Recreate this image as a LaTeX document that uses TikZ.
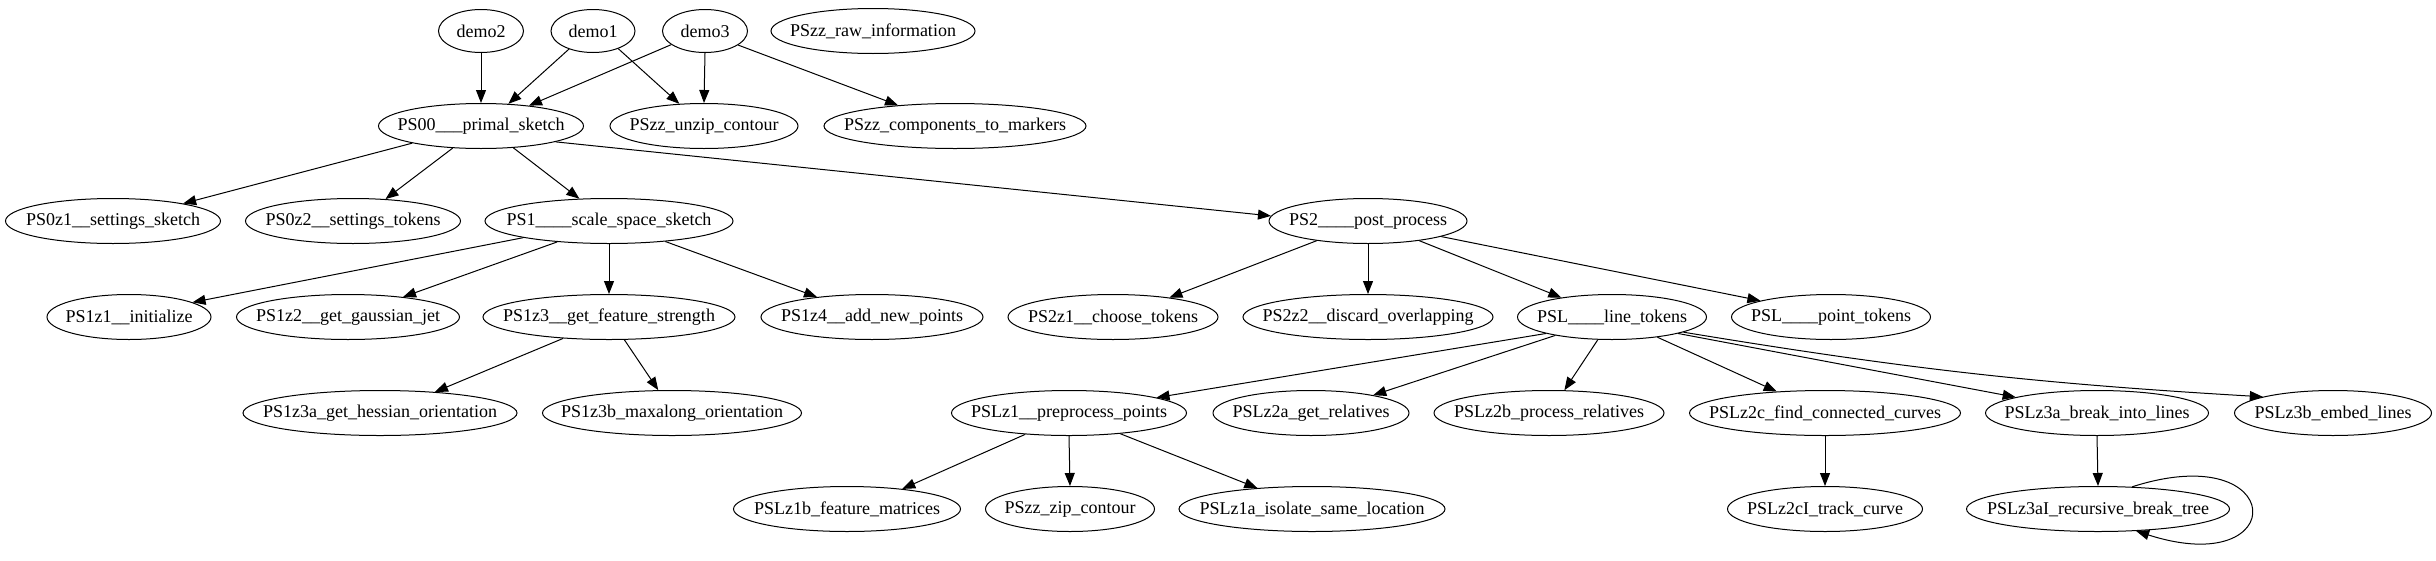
\documentclass[tikz,border=0pt]{standalone}
\usepackage{fontspec}
\setmainfont{Liberation Serif}
\usetikzlibrary{arrows.meta,shapes.geometric}
\newcommand\lbl[1]{\makebox[0pt]{#1}}
\tikzset{
  gn/.style={draw, ellipse, line width=1pt, inner sep=0pt, minimum height=45pt,
    font=\fontsize{18}{20}\selectfont},
  ge/.style={-{Triangle[length=13pt,width=10pt]}, line width=1pt},
}
\begin{document}
\begin{tikzpicture}[x=1pt,y=-1pt]
\useasboundingbox (0,0) rectangle (2436,560);
% row 0
\node[gn, minimum width=85pt, minimum height=43pt] (demo2) at (481,31) {\lbl{demo2}};
\node[gn, minimum width=84pt, minimum height=43pt] (demo1) at (593,31) {\lbl{demo1}};
\node[gn, minimum width=85pt, minimum height=43pt] (demo3) at (705,31) {\lbl{demo3}};
\node[gn, minimum width=204pt] (raw) at (873,31) {\lbl{PSzz\_raw\_information}};
% row 1
\node[gn, minimum width=205pt] (ps00) at (481,126) {\lbl{PS00\_\_\_primal\_sketch}};
\node[gn, minimum width=188pt] (unzip) at (704,126) {\lbl{PSzz\_unzip\_contour}};
\node[gn, minimum width=262pt] (comp) at (955,126) {\lbl{PSzz\_components\_to\_markers}};
% row 2
\node[gn, minimum width=215pt] (ps0z1) at (113,221) {\lbl{PS0z1\_\_settings\_sketch}};
\node[gn, minimum width=215pt] (ps0z2) at (353,221) {\lbl{PS0z2\_\_settings\_tokens}};
\node[gn, minimum width=248pt] (ps1) at (609,221) {\lbl{PS1\_\_\_\_scale\_space\_sketch}};
\node[gn, minimum width=198pt] (ps2) at (1368,221) {\lbl{PS2\_\_\_\_post\_process}};
% row 3
\node[gn, minimum width=164pt] (ps1z1) at (129,317) {\lbl{PS1z1\_\_initialize}};
\node[gn, minimum width=223pt] (ps1z2) at (348,317) {\lbl{PS1z2\_\_get\_gaussian\_jet}};
\node[gn, minimum width=252pt] (ps1z3) at (609,317) {\lbl{PS1z3\_\_get\_feature\_strength}};
\node[gn, minimum width=222pt] (ps1z4) at (872,317) {\lbl{PS1z4\_\_add\_new\_points}};
\node[gn, minimum width=210pt] (ps2z1) at (1113,317) {\lbl{PS2z1\_\_choose\_tokens}};
\node[gn, minimum width=250pt] (ps2z2) at (1368,317) {\lbl{PS2z2\_\_discard\_overlapping}};
\node[gn, minimum width=189pt] (psl) at (1612,317) {\lbl{PSL\_\_\_\_line\_tokens}};
\node[gn, minimum width=199pt] (pslp) at (1831,317) {\lbl{PSL\_\_\_\_point\_tokens}};
% row 4
\node[gn, minimum width=274pt] (ps1z3a) at (380,413) {\lbl{PS1z3a\_get\_hessian\_orientation}};
\node[gn, minimum width=259pt] (ps1z3b) at (672,413) {\lbl{PS1z3b\_maxalong\_orientation}};
\node[gn, minimum width=235pt] (pslz1) at (1069,413) {\lbl{PSLz1\_\_preprocess\_points}};
\node[gn, minimum width=196pt] (pslz2a) at (1311,413) {\lbl{PSLz2a\_get\_relatives}};
\node[gn, minimum width=230pt] (pslz2b) at (1549,413) {\lbl{PSLz2b\_process\_relatives}};
\node[gn, minimum width=271pt] (pslz2c) at (1825,413) {\lbl{PSLz2c\_find\_connected\_curves}};
\node[gn, minimum width=223pt] (pslz3a) at (2097,413) {\lbl{PSLz3a\_break\_into\_lines}};
\node[gn, minimum width=197pt] (pslz3b) at (2333,413) {\lbl{PSLz3b\_embed\_lines}};
% row 5
\node[gn, minimum width=227pt] (pslz1b) at (847,509) {\lbl{PSLz1b\_feature\_matrices}};
\node[gn, minimum width=169pt] (zip) at (1070,509) {\lbl{PSzz\_zip\_contour}};
\node[gn, minimum width=266pt] (pslz1a) at (1312,509) {\lbl{PSLz1a\_isolate\_same\_location}};
\node[gn, minimum width=195pt] (pslz2ci) at (1825,509) {\lbl{PSLz2cI\_track\_curve}};
\node[gn, minimum width=263pt] (pslz3ai) at (2098,509) {\lbl{PSLz3aI\_recursive\_break\_tree}};
% edges
\draw[ge] (demo2.south) -- (ps00.north);
\draw[ge] (demo1.-143) -- (ps00.39.6);
\draw[ge] (demo3.-158) -- (ps00.23.9);
\draw[ge] (demo1.-35.3) -- (unzip.138.4);
\draw[ge] (demo3.south) -- (unzip.north);
\draw[ge] (demo3.-23) -- (comp.160.7);
\draw[ge] (ps00.-166) -- (ps0z1.14);
\draw[ge] (ps00.-142.8) -- (ps0z2.34.5);
\draw[ge] (ps00.-34.5) -- (ps1.143.4);
\draw[ge] (ps00.-12.2) -- (ps2.177.1);
\draw[ge] (ps1.-169.8) -- (ps1z1.13.8);
\draw[ge] (ps1.-158.6) -- (ps1z2.20);
\draw[ge] (ps1.south) -- (ps1z3.north);
\draw[ge] (ps1.-20.8) -- (ps1z4.160);
\draw[ge] (ps1z3.-155.7) -- (ps1z3a.21.6);
\draw[ge] (ps1z3.-56.3) -- (ps1z3b.121);
\draw[ge] (ps2.-159) -- (ps2z1.19.3);
\draw[ge] (ps2.south) -- (ps2z2.north);
\draw[ge] (ps2.-21.3) -- (psl.159);
\draw[ge] (ps2.-12) -- (pslp.167.8);
\draw[ge] (psl.-166.7) -- (pslz1.10);
\draw[ge] (psl.-162.2) -- (pslz2a.16.2);
\draw[ge] (psl.-122) -- (pslz2b.56.3);
\draw[ge] (psl.-24.5) -- (pslz2c.156.3);
\draw[ge] (psl.-14) -- (pslz3a.169.9);
\draw[ge] (psl.-12.7) to[bend right=3] (pslz3b.167.8);
\draw[ge] (pslz1.-154.9) -- (pslz1b.20.4);
\draw[ge] (pslz1.south) -- (zip.north);
\draw[ge] (pslz1.-22.2) -- (pslz1a.159);
\draw[ge] (pslz2c.south) -- (pslz2ci.north);
\draw[ge] (pslz3a.south) -- (pslz3ai.north);
\draw[ge] (pslz3ai.33) .. controls +(156,-50) and +(156,50) .. (pslz3ai.-30);
\end{tikzpicture}
\end{document}
